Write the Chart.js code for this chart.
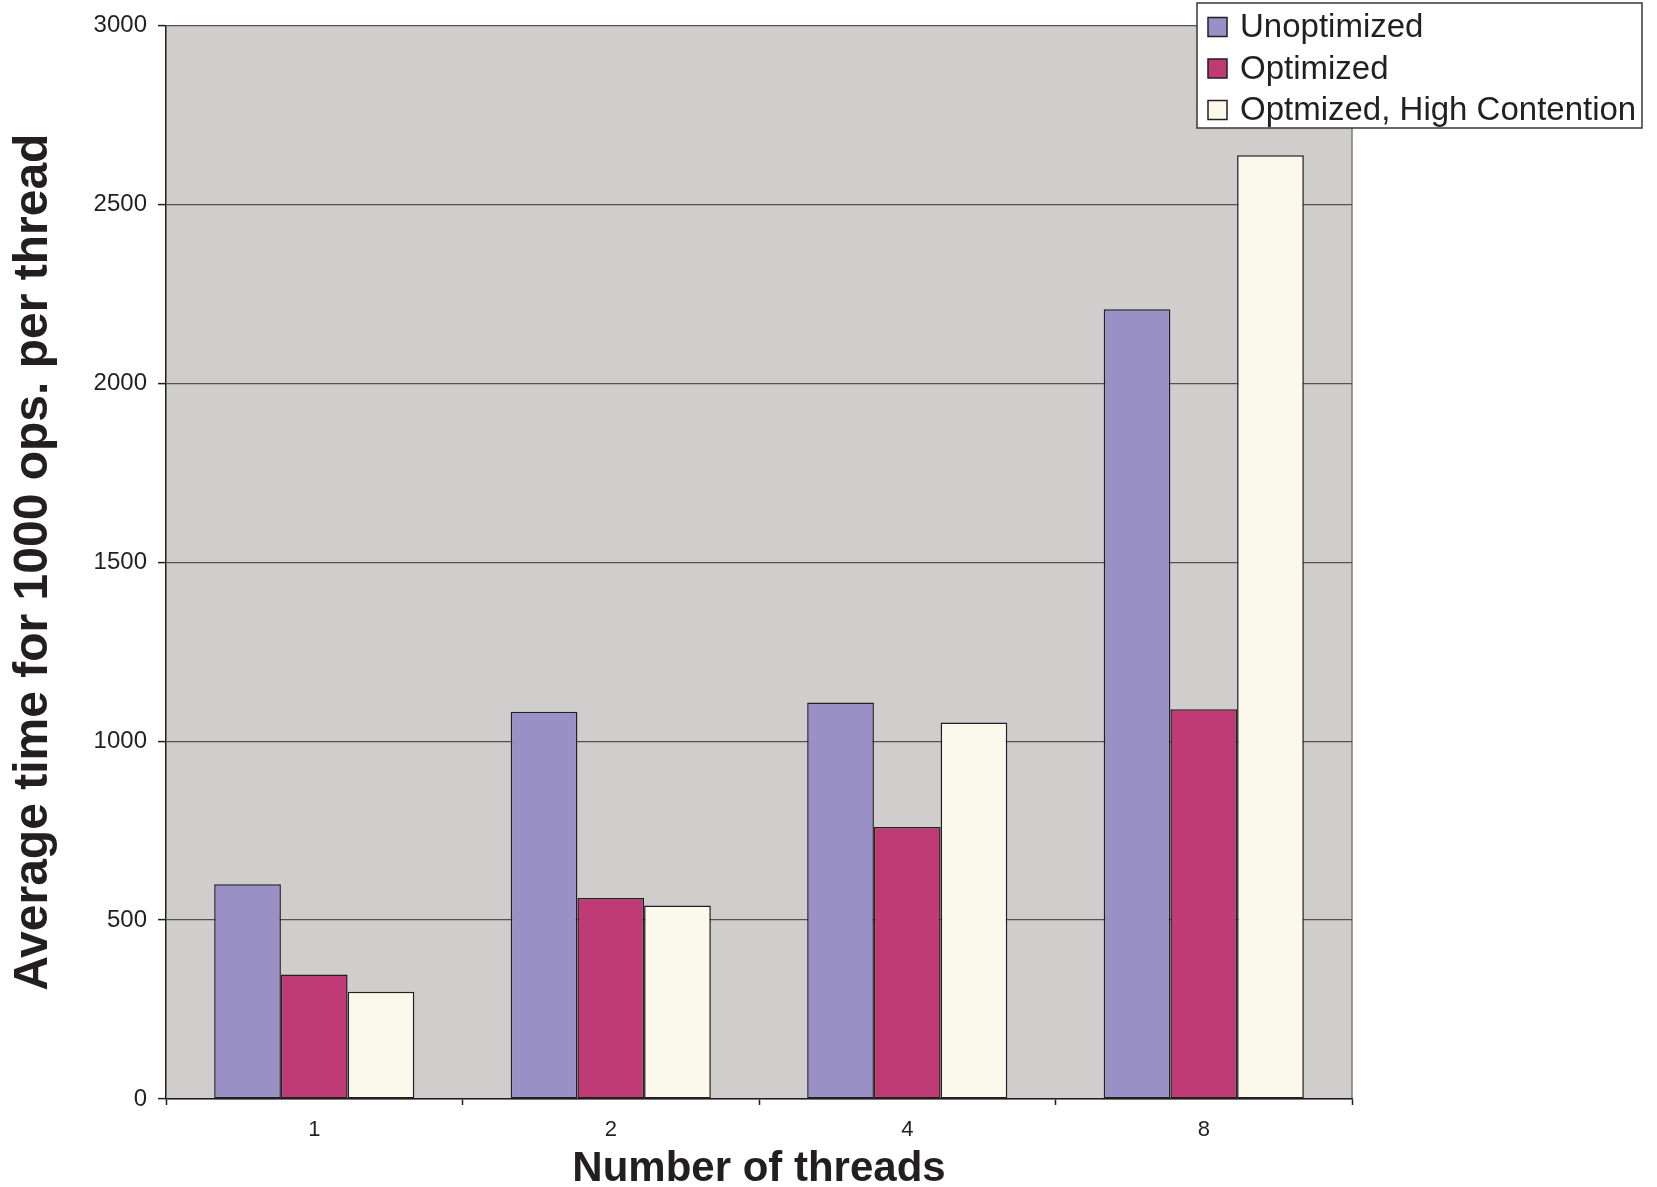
<!DOCTYPE html>
<html>
<head>
<meta charset="utf-8">
<title>Average time per thread</title>
<script src="https://cdn.jsdelivr.net/npm/chart.js@4.4.1/dist/chart.umd.min.js"></script>
<style>
  html, body { margin: 0; padding: 0; background: #ffffff; }
  #wrap { width: 1657px; height: 1187px; }
</style>
</head>
<body>
<div id="wrap"><canvas id="chart" width="1657" height="1187"></canvas></div>
<script>
// Thread counts on the x axis
const threads = ['1', '2', '4', '8'];

// Average time for 1000 operations per thread
const unoptimized = [600, 1082, 1108, 2207];
const optimized = [348, 562, 760, 1089];
const highContention = [300, 541, 1052, 2637];

// Value axis ticks
const yTicks = [0, 500, 1000, 1500, 2000, 2500, 3000];

const seriesNames = ['Unoptimized', 'Optimized', 'Optmized, High Contention'];
const seriesColors = ['#9990c5', '#c03a76', '#fbf9eb'];

const FONT = '"Liberation Sans", Arial, Helvetica, sans-serif';
const INK = '#231f20';

// Grey plot background and right edge
const plotBackground = {
  id: 'plotBackground',
  beforeDraw(chart) {
    const { ctx, chartArea: a } = chart;
    ctx.save();
    ctx.fillStyle = '#d0cdcd';
    ctx.fillRect(a.left, a.top, a.right - a.left, a.bottom - a.top);
    ctx.strokeStyle = '#7a7777';
    ctx.lineWidth = 1.5;
    ctx.beginPath();
    ctx.moveTo(a.right, a.top);
    ctx.lineTo(a.right, a.bottom);
    ctx.stroke();
    ctx.restore();
  }
};

// Boxed legend in the upper right corner
const boxedLegend = {
  id: 'boxedLegend',
  afterDraw(chart) {
    const { ctx } = chart;
    const x = 1197, y = 3, w = 445, h = 125;
    ctx.save();
    ctx.fillStyle = '#ffffff';
    ctx.fillRect(x, y, w, h);
    ctx.strokeStyle = '#3a3636';
    ctx.lineWidth = 1.5;
    ctx.strokeRect(x, y, w, h);
    ctx.font = '33px ' + FONT;
    ctx.textBaseline = 'middle';
    ctx.textAlign = 'left';
    chart.data.datasets.forEach((ds, i) => {
      const cy = 27 + i * 41.5;
      ctx.fillStyle = ds.backgroundColor;
      ctx.fillRect(1208, cy - 9.5, 19, 19);
      ctx.strokeStyle = INK;
      ctx.lineWidth = 1.5;
      ctx.strokeRect(1208, cy - 9.5, 19, 19);
      ctx.fillStyle = INK;
      ctx.fillText(ds.label, 1240, cy + 1);
    });
    ctx.restore();
  }
};

const values = [unoptimized, optimized, highContention];

new Chart(document.getElementById('chart'), {
  type: 'bar',
  data: {
    labels: threads,
    datasets: seriesNames.map((name, i) => ({
      label: name,
      data: values[i],
      backgroundColor: seriesColors[i],
      borderColor: INK,
      borderWidth: 1.5,
      borderSkipped: false,
      categoryPercentage: 0.675,
      barPercentage: 1.0
    }))
  },
  options: {
    responsive: false,
    devicePixelRatio: 1,
    animation: false,
    layout: { padding: { left: 0, right: 305, top: 25, bottom: 0 } },
    plugins: {
      legend: { display: false },
      tooltip: { enabled: false }
    },
    scales: {
      x: {
        offset: true,
        grid: {
          display: true,
          offset: true,
          drawOnChartArea: false,
          drawTicks: true,
          tickLength: 6,
          tickColor: INK,
          tickWidth: 1.5
        },
        border: { display: true, color: INK, width: 1.5 },
        ticks: {
          color: INK,
          font: { family: FONT, size: 22 },
          padding: 12
        },
        title: {
          display: true,
          text: 'Number of threads',
          color: INK,
          font: { family: FONT, size: 42, weight: 'bold', lineHeight: 0.85 },
          padding: { top: 0, bottom: 0 }
        },
        afterFit(scale) { scale.height = 88; }
      },
      y: {
        min: 0,
        max: 3000,
        afterBuildTicks(scale) {
          scale.ticks = yTicks.map(v => ({ value: v }));
        },
        grid: {
          color: '#555151',
          lineWidth: 1.2,
          drawTicks: true,
          tickLength: 8,
          tickColor: INK,
          tickWidth: 1.5
        },
        border: { display: true, color: INK, width: 1.5 },
        ticks: {
          color: INK,
          font: { family: FONT, size: 24 },
          padding: 11,
          callback: (v) => String(v)
        },
        title: {
          display: true,
          text: 'Average time for 1000 ops. per thread',
          color: INK,
          font: { family: FONT, size: 48, weight: 'bold', lineHeight: 1.2 },
          padding: { top: 5, bottom: 0 }
        },
        afterFit(scale) { scale.width = 166; }
      }
    }
  },
  plugins: [plotBackground, boxedLegend]
});
</script>
</body>
</html>
